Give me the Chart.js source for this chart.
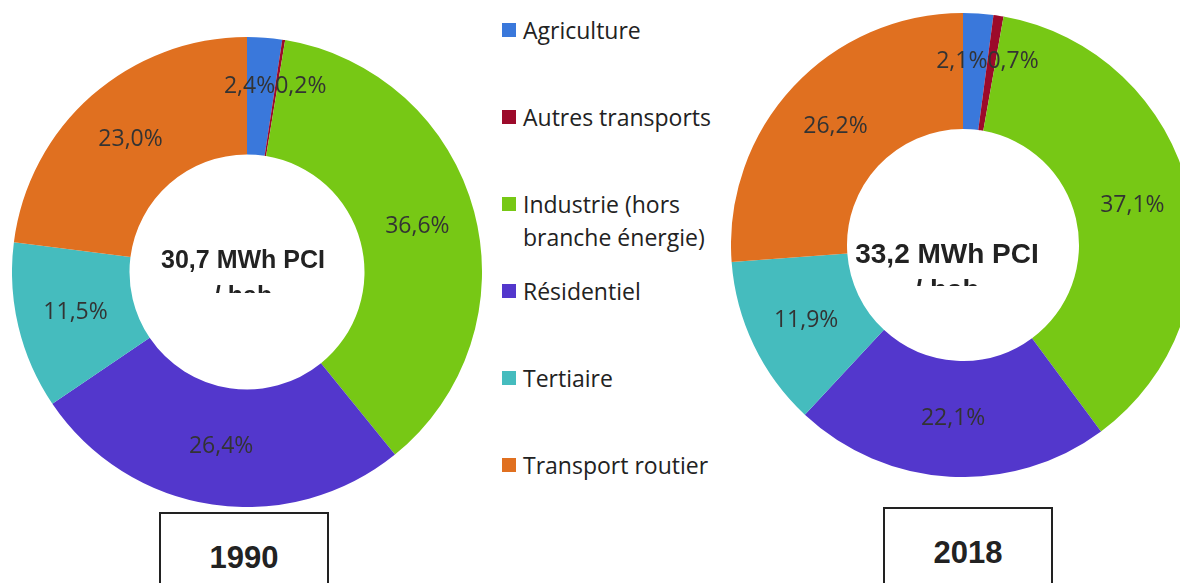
<!DOCTYPE html>
<html>
<head>
<meta charset="utf-8">
<script src="https://cdn.jsdelivr.net/npm/chart.js@4"></script>
<style>
  html, body { margin: 0; padding: 0; background: #fff; }
  body { width: 1180px; height: 583px; position: relative; overflow: hidden; }
  .wrap { position: absolute; }
  #legend { position: absolute; left: 502px; top: 0; font-family: "Open Sans", sans-serif; font-size: 23px; color: #222; }
  .item { position: absolute; left: 0; width: 260px; line-height: 33px; white-space: nowrap; }
  .item .sq { position: absolute; left: 0; top: 9px; width: 14px; height: 14px; }
  .item .txt { position: absolute; left: 21px; top: 0; }
  .year { position: absolute; border: 2px solid #222; border-bottom: none; height: 90px;
          font-family: "Liberation Sans", Arial, sans-serif; font-weight: bold; font-size: 31px;
          color: #222; text-align: center; box-sizing: border-box; }
</style>
</head>
<body>
<div class="wrap" style="left:12px;top:37px;width:470px;height:470px"><canvas id="c1990"></canvas></div>
<div class="wrap" style="left:731px;top:13px;width:464px;height:464px"><canvas id="c2018"></canvas></div>
<div id="legend"></div>
<div class="year" style="left:159px;top:512px;width:170px;padding-top:26px">1990</div>
<div class="year" style="left:883px;top:507px;width:170px;padding-top:26px">2018</div>
<script>
const categories = ["Agriculture", "Autres transports", "Industrie (hors\nbranche énergie)", "Résidentiel", "Tertiaire", "Transport routier"];
const colors = ["#3A78DB", "#9C0A2A", "#77C815", "#5337CC", "#45BCBE", "#E07020"];
const values1990 = [2.4, 0.2, 36.6, 26.4, 11.5, 23.0];
const values2018 = [2.1, 0.7, 37.1, 22.1, 11.9, 26.2];
const total1990 = "30,7 MWh PCI";
const total2018 = "33,2 MWh PCI";

// legend
const legend = document.getElementById("legend");
categories.forEach((c, i) => {
    const d = document.createElement("div");
    d.className = "item";
    d.style.top = (30 + 87 * i - 16.5) + "px";
    d.innerHTML = '<span class="sq" style="background:' + colors[i] + '"></span><span class="txt">' +
        c.replace("\n", "<br>") + "</span>";
    legend.appendChild(d);
});

const fmt = v => v.toFixed(1).replace(".", ",") + "%";

const labelPlugin = {
    id: "labels",
    afterDatasetsDraw(chart) {
        const ctx = chart.ctx;
        const arcs = chart.getDatasetMeta(0).data;
        const vals = chart.data.datasets[0].data;
        ctx.save();
        ctx.font = "23px 'Open Sans'";
        ctx.fillStyle = "#333";
        ctx.textBaseline = "middle";
        arcs.forEach((arc, i) => {
            const v = vals[i];
            let x, y, align = "center";
            if (v < 3 && i + 1 < vals.length && vals[i + 1] < 3) {
                const r = arc.outerRadius * 0.8;
                x = arc.x + r * Math.cos(arc.endAngle);
                y = arc.y + r * Math.sin(arc.endAngle);
                align = "right";
            } else if (v < 3 && i > 0 && vals[i - 1] < 3) {
                const r = arc.outerRadius * 0.8;
                x = arc.x + r * Math.cos(arc.startAngle);
                y = arc.y + r * Math.sin(arc.startAngle);
                align = "left";
            } else {
                const p = arc.getCenterPoint();
                x = p.x; y = p.y;
            }
            ctx.textAlign = align;
            ctx.fillText(fmt(v), x, y);
        });
        ctx.restore();
    }
};

const centerPlugin = {
    id: "centerText",
    afterDraw(chart, args, opts) {
        const ctx = chart.ctx;
        const arc = chart.getDatasetMeta(0).data[0];
        const cx = arc.x + opts.dx, cy = arc.y;
        ctx.save();
        ctx.beginPath();
        ctx.rect(cx - 150, cy - 60, 300, 60 + opts.clip);
        ctx.clip();
        ctx.font = "bold " + opts.size + "px 'Liberation Sans'";
        ctx.fillStyle = "#222";
        ctx.textAlign = "center";
        ctx.textBaseline = "alphabetic";
        ctx.fillText(opts.text, cx, cy + opts.base);
        ctx.fillText("/ hab", cx, cy + opts.base + opts.gap);
        ctx.restore();
    }
};

function makeDonut(id, values, text, size, dx, base, gap, clip) {
    new Chart(document.getElementById(id), {
        type: "doughnut",
        data: {
            labels: categories,
            datasets: [{
                data: values,
                backgroundColor: colors,
                borderWidth: 0,
            }],
        },
        options: {
            responsive: true,
            maintainAspectRatio: false,
            animation: false,
            cutout: "50%",
            layout: { padding: 0 },
            plugins: {
                legend: { display: false },
                tooltip: { enabled: false },
                centerText: { text: text, size: size, dx: dx, base: base, gap: gap, clip: clip },
            },
        },
        plugins: [labelPlugin, centerPlugin],
    });
}

makeDonut("c1990", values1990, total1990, 25, -4, -4, 36, 21);
makeDonut("c2018", values2018, total2018, 28, -16, 18, 36, 41);
</script>
</body>
</html>
